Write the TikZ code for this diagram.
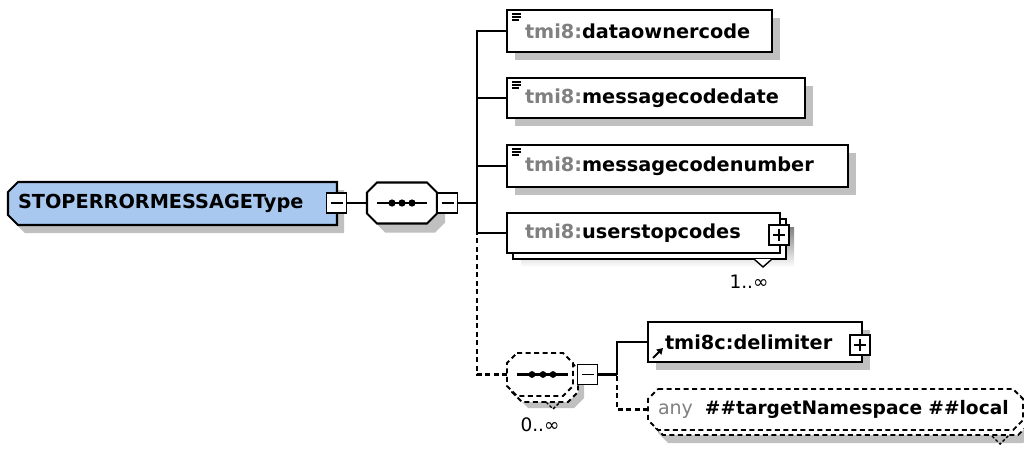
\documentclass[tikz,border=0pt]{standalone}
\usepackage{fontspec}
\setmainfont{DejaVu Sans}
\usetikzlibrary{calc,shadows,arrows.meta}
\definecolor{mainblue}{HTML}{A8C8F0}
\definecolor{shade}{HTML}{C0C0C0}
\definecolor{pfx}{HTML}{808080}
\pgfdeclarelayer{bg}
\pgfsetlayers{bg,main}
\newcommand\fElem{\fontsize{19.3}{23}\selectfont\bfseries}
\newcommand\fAny{\fontsize{18.6}{22}\selectfont\bfseries}
\newcommand\fLbl{\fontsize{18.5}{22}\selectfont}
% #1 options, #2 node, #3 west chamfer, #4 east chamfer, #5 dx, #6 dy
\newcommand\octo[6]{%
 \path[#1] ($(#2.north west)+(#3+#5,#6)$) -- ($(#2.north east)+(-#4+#5,#6)$)
   -- ($(#2.north east)+(#5,#4+#6)$) -- ($(#2.south east)+(#5,-#4+#6)$)
   -- ($(#2.south east)+(-#4+#5,#6)$) -- ($(#2.south west)+(#3+#5,#6)$)
   -- ($(#2.south west)+(#5,-#3+#6)$) -- ($(#2.north west)+(#5,#3+#6)$) -- cycle;}
\tikzset{
 every node/.style={outer sep=0pt},
 conn/.style={line width=2.1pt},
 dsh/.style={dash pattern=on 5pt off 3.5pt},
 elem/.style={draw, line width=2.1pt, fill=white, anchor=north west, inner ysep=0pt,
   inner xsep=18pt, align=left, font=\fElem},
 shd/.style={drop shadow={shadow xshift=8pt, shadow yshift=-8pt, fill=shade, opacity=1}},
 pm/.style={draw, line width=1.8pt, fill=white, minimum width=20pt, minimum height=20pt, inner sep=0pt},
 minusbox/.style={pm, path picture={\draw[line width=1.8pt]
   ([xshift=4pt]path picture bounding box.west) -- ([xshift=-4pt]path picture bounding box.east);}},
 plusbox/.style={pm, path picture={\draw[line width=1.8pt]
   ([xshift=4pt]path picture bounding box.west) -- ([xshift=-4pt]path picture bounding box.east)
   ([yshift=-4pt]path picture bounding box.north) -- ([yshift=4pt]path picture bounding box.south);}},
 lbl/.style={font=\fLbl, inner sep=0pt},
 icon/.style={line width=1.3pt},
}
\begin{document}
\begin{tikzpicture}[x=1pt, y=-1pt]
\useasboundingbox (0,0) rectangle (1024,450);

% ---- nodes ----
\node[anchor=north west, minimum height=43pt, inner xsep=10pt, inner ysep=0pt,
  text width=309pt, align=left, font=\fElem] (main) at (8,182) {STOPERRORMESSAGEType};
\node[minusbox] (m1) at (336.5,203) {};

\node[minimum width=70pt, minimum height=41pt, inner sep=0pt] (seq1) at (402,203) {};
\node[minusbox] (m2) at (447.5,203) {};

\node[elem, shd, text width=229pt, minimum height=42pt] (e1) at (507,10)
  {{\color{pfx}tmi8:}dataownercode};
\node[elem, shd, text width=262pt, minimum height=40pt] (e2) at (507,78)
  {{\color{pfx}tmi8:}messagecodedate};
\node[elem, shd, text width=305pt, minimum height=42pt] (e3) at (507,145)
  {{\color{pfx}tmi8:}messagecodenumber};
\node[elem, text width=237pt, minimum height=40pt] (e4) at (507,213)
  {{\color{pfx}tmi8:}userstopcodes};
\node[plusbox] (p4) at (779,235) {};
\node[lbl] (c1) at (749,282) {1..∞};

\node[minimum width=66pt, minimum height=43pt, inner sep=0pt] (seq2) at (540,374.5) {};
\node[minusbox] (m3) at (587.5,374.5) {};
\node[lbl] (c2) at (540,425) {0..∞};

\node[elem, shd, text width=180pt, minimum height=40pt, inner xsep=17pt] (dl) at (648,322)
  {tmi8c:delimiter};
\node[plusbox] (p5) at (860,345) {};

\node[anchor=north west, minimum height=41pt, inner xsep=10pt, inner ysep=0pt,
  text width=355pt, align=left, font=\fAny] (any) at (648,389)
  {\mbox{{\color{pfx}\mdseries\fontsize{19}{22}\selectfont any}\hspace{12pt}\#\#targetNamespace \#\#local}};

% ---- shapes behind ----
\begin{pgfonlayer}{bg}
\fill[white] (0,0) rectangle (1024,450);
% main type
\octo{fill=shade}{main}{10}{0}{7}{8}
\octo{fill=mainblue, draw=black, line width=2.1pt}{main}{10}{0}{0}{0}
% sequence 1
\octo{fill=shade}{seq1}{10}{10}{8}{9}
\octo{fill=white, draw=black, line width=2.1pt}{seq1}{10}{10}{0}{0}
% userstopcodes stack
\fill[shade] ($(e4.north west)+(14,14)$) rectangle ($(e4.south east)+(14,14)$);
\draw[fill=white, line width=2.1pt] ($(e4.north west)+(6,6)$) rectangle ($(e4.south east)+(6,6)$);
% sequence 2 (optional, repeated)
\octo{fill=shade}{seq2}{10}{10}{11}{12}
\octo{fill=white, draw=black, line width=1.8pt, dsh}{seq2}{10}{10}{5}{6}
\octo{fill=white, draw=black, line width=1.8pt, dsh}{seq2}{10}{10}{0}{0}
% any
\octo{fill=shade}{any}{10}{10}{10}{13}
\octo{fill=white, draw=black, line width=1.8pt, dsh}{any}{10}{10}{5}{5}
\octo{fill=white, draw=black, line width=1.8pt, dsh}{any}{10}{10}{0}{0}
\end{pgfonlayer}

% ---- symbols ----
\draw[line width=2.1pt] ($(seq1.west)+(10,0)$) -- ($(seq1.east)+(-10,0)$);
\foreach \d in {-10,0,10} \fill ($(seq1.center)+(\d,0)$) circle (3.6pt);
\draw[line width=2.1pt] ($(seq2.west)+(10,0)$) -- ($(seq2.east)+(-5,0)$);
\foreach \d in {-8,3,13} \fill ($(seq2.center)+(\d,0)$) circle (3.4pt);

\foreach \e in {e1,e2,e3} {
  \draw[icon] ($(\e.north west)+(5,4)$) -- ++(9,0);
  \draw[icon] ($(\e.north west)+(5,7)$) -- ++(9,0);
  \draw[icon] ($(\e.north west)+(5,10)$) -- ++(7,0);
}
\draw[line width=2pt, -{Triangle[length=6pt,width=7pt]}] ($(dl.south west)+(5,-4)$) -- ++(10,-10);

% multiplicity marks
\fill[white] (754,259) -- (763,267) -- (772,259) -- cycle;
\draw[line width=1.4pt] (754,259) -- (763,267) -- (772,259);
\draw[line width=1.4pt, dash pattern=on 3pt off 2pt] (546,402) -- (553,409) -- (560,402);
\draw[line width=1.4pt, dash pattern=on 3pt off 2pt] (992,436) -- (1000,444) -- (1008,436);

% ---- connectors ----
\coordinate (t) at (477,203);
\coordinate (t2) at (617,374.5);
\draw[conn] (m1.east) -- (seq1.west);
\draw[conn] (m2.east) -- (t);
\draw[conn] (e1.west) -| (t);
\draw[conn] (e2.west) -- (e2.west -| t);
\draw[conn] (e3.west) -- (e3.west -| t);
\draw[conn] (e4.west) -| (t);
\draw[conn, dsh] (seq2.west) -| (e4.west -| t);
\draw[conn] (m3.east) -- (t2);
\draw[conn] (dl.west) -| (t2);
\draw[conn, dsh] (any.west) -| (t2);
\end{tikzpicture}
\end{document}
